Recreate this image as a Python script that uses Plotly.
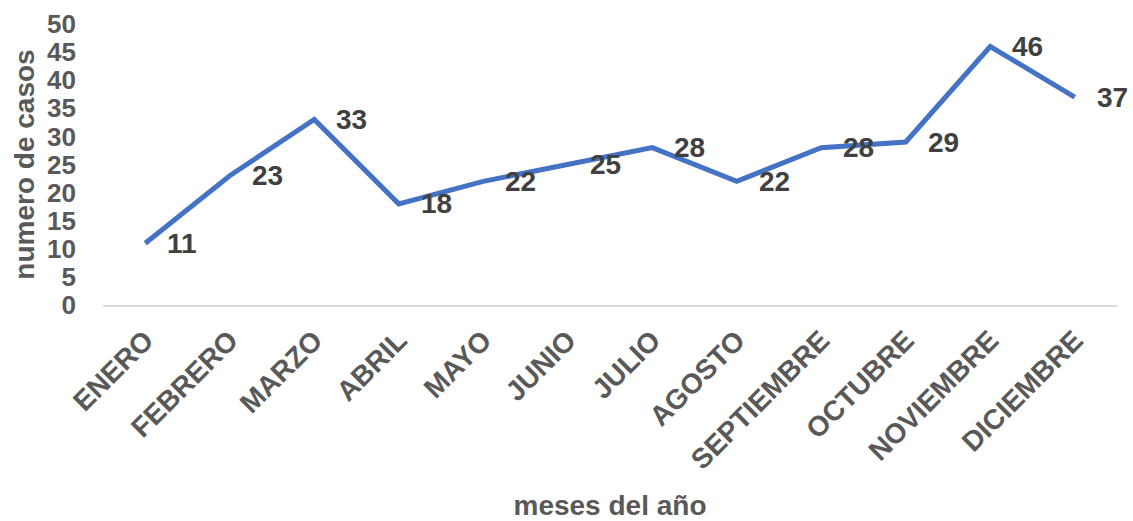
import plotly.graph_objects as go

meses = ["ENERO", "FEBRERO", "MARZO", "ABRIL", "MAYO", "JUNIO", "JULIO",
         "AGOSTO", "SEPTIEMBRE", "OCTUBRE", "NOVIEMBRE", "DICIEMBRE"]
casos = [11, 23, 33, 18, 22, 25, 28, 22, 28, 29, 46, 37]
y_ticks = list(range(0, 51, 5))

FONT = "Liberation Sans, Arial, sans-serif"
GRAY = "#595959"
DARK = "#404040"

fig = go.Figure()
fig.add_trace(go.Scatter(
    x=meses, y=casos, mode="lines",
    line=dict(color="#4472C4", width=5),
    hoverinfo="x+y",
))

# value labels to the right of each point
for m, v in zip(meses, casos):
    fig.add_annotation(
        x=m, y=v, text=str(v), showarrow=False,
        xanchor="left", yanchor="middle", xshift=20,
        font=dict(family=FONT, size=28, color=DARK, weight="bold"),
    )

fig.update_layout(
    width=1133, height=521,
    margin=dict(l=103, r=16, t=24, b=216),
    paper_bgcolor="white", plot_bgcolor="white",
    showlegend=False,
    font=dict(family=FONT, color=GRAY),
    xaxis=dict(
        type="category",
        automargin=False,
        range=[-0.5, len(meses) - 0.5],
        tickangle=-45,
        tickfont=dict(family=FONT, size=28, color=GRAY, weight="bold"),
        showgrid=False, zeroline=False,
        showline=True, linecolor="#D9D9D9", linewidth=1.5,
        ticks="", ticklabelstandoff=6,
        title=dict(text="meses del año", standoff=22,
                   font=dict(family=FONT, size=28, color=GRAY, weight="bold")),
    ),
    yaxis=dict(
        automargin=False,
        range=[0, 50],
        tickvals=y_ticks,
        tickfont=dict(family=FONT, size=26, color=GRAY, weight="bold"),
        showgrid=False, zeroline=False, showline=False,
        ticks="", ticklabelstandoff=26,
        title=dict(text="numero de casos", standoff=4,
                   font=dict(family=FONT, size=28, color=GRAY, weight="bold")),
    ),
)

fig.write_html("out.html")
